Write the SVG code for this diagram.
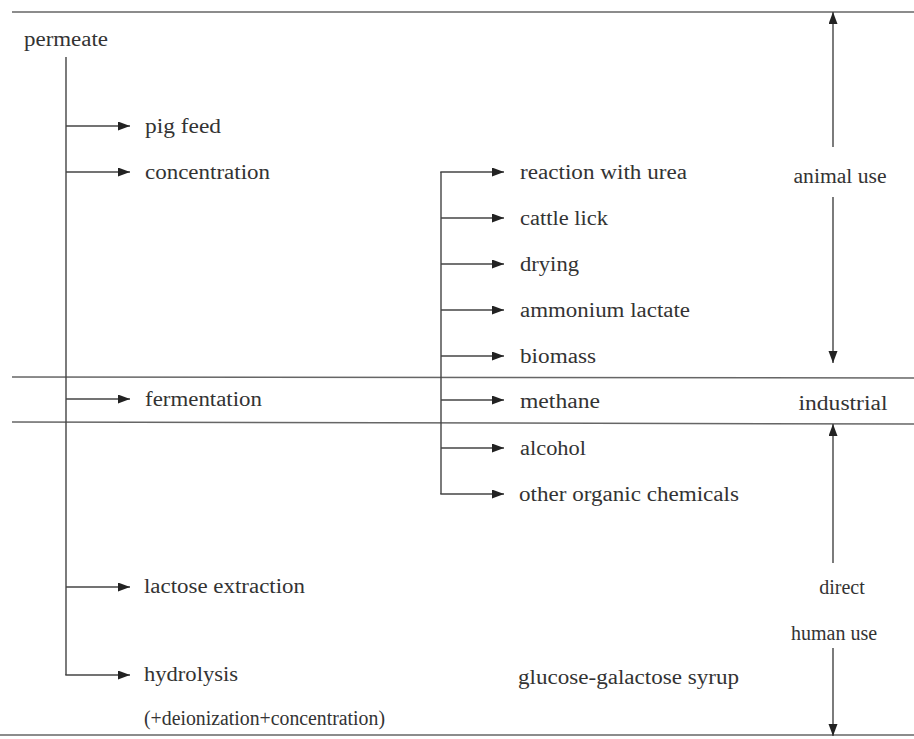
<svg xmlns="http://www.w3.org/2000/svg" width="914" height="739" viewBox="0 0 914 739">
<defs>
<marker id="ah" markerUnits="userSpaceOnUse" markerWidth="12" markerHeight="10" refX="12" refY="4.5" orient="auto">
<path d="M0,0 L12,4.5 L0,9 Z" fill="#222"/>
</marker>
<style>
.t{font-family:"Liberation Serif","Times New Roman",serif;font-size:20px;fill:#333}
.m{text-anchor:middle}
.ln{stroke:#444;stroke-width:1.4;fill:none}
.sep{stroke:#666;stroke-width:1.5;fill:none}
.ar{stroke:#444;stroke-width:1.4;fill:none;marker-end:url(#ah)}
</style>
</defs>
<rect width="914" height="739" fill="#fff"/>
<g id="separators">
<line class="sep" x1="12" y1="12" x2="914" y2="12"/>
<line class="sep" x1="12" y1="377" x2="914" y2="378"/>
<line class="sep" x1="12" y1="422" x2="914" y2="424"/>
<line class="sep" x1="0" y1="735" x2="914" y2="735"/>
</g>
<g id="connectors">
<line class="ln" x1="66" y1="57" x2="66" y2="675"/>
<line class="ar" x1="66" y1="126" x2="130" y2="126"/>
<line class="ar" x1="66" y1="172" x2="130" y2="172"/>
<line class="ar" x1="66" y1="399" x2="130" y2="399"/>
<line class="ar" x1="66" y1="587" x2="130" y2="587"/>
<line class="ar" x1="65.3" y1="675" x2="130" y2="675"/>
<line class="ln" x1="441" y1="172" x2="441" y2="494"/>
<line class="ar" x1="440.3" y1="172" x2="504" y2="172"/>
<line class="ar" x1="441" y1="218" x2="504" y2="218"/>
<line class="ar" x1="441" y1="264" x2="504" y2="264"/>
<line class="ar" x1="441" y1="310" x2="504" y2="310"/>
<line class="ar" x1="441" y1="356" x2="504" y2="356"/>
<line class="ar" x1="441" y1="400" x2="504" y2="400"/>
<line class="ar" x1="441" y1="448" x2="504" y2="448"/>
<line class="ar" x1="440.3" y1="494" x2="504" y2="494"/>
<line class="ar" x1="833" y1="147" x2="833" y2="12"/>
<line class="ar" x1="833" y1="197" x2="833" y2="363"/>
<line class="ar" x1="833" y1="563" x2="833" y2="424"/>
<line class="ar" x1="833" y1="648" x2="833" y2="736"/>
</g>
<g id="n-permeate"><text class="t" x="24" y="46" textLength="84" lengthAdjust="spacingAndGlyphs">permeate</text></g>
<g id="n-pigfeed"><text class="t" x="145" y="133" textLength="76" lengthAdjust="spacingAndGlyphs">pig feed</text></g>
<g id="n-concentration"><text class="t" x="145" y="179" textLength="125" lengthAdjust="spacingAndGlyphs">concentration</text></g>
<g id="n-fermentation"><text class="t" x="145" y="406" textLength="117" lengthAdjust="spacingAndGlyphs">fermentation</text></g>
<g id="n-lactose"><text class="t" x="144" y="593" textLength="161" lengthAdjust="spacingAndGlyphs">lactose extraction</text></g>
<g id="n-hydrolysis"><text class="t" x="144" y="681" textLength="94" lengthAdjust="spacingAndGlyphs">hydrolysis</text></g>
<g id="n-deion"><text class="t" x="144" y="725" textLength="241" lengthAdjust="spacingAndGlyphs">(+deionization+concentration)</text></g>
<g id="n-urea"><text class="t" x="520" y="179" textLength="167" lengthAdjust="spacingAndGlyphs">reaction with urea</text></g>
<g id="n-cattle"><text class="t" x="520" y="225" textLength="88" lengthAdjust="spacingAndGlyphs">cattle lick</text></g>
<g id="n-drying"><text class="t" x="520" y="271" textLength="59" lengthAdjust="spacingAndGlyphs">drying</text></g>
<g id="n-ammonium"><text class="t" x="520" y="317" textLength="170" lengthAdjust="spacingAndGlyphs">ammonium lactate</text></g>
<g id="n-biomass"><text class="t" x="520" y="363" textLength="76" lengthAdjust="spacingAndGlyphs">biomass</text></g>
<g id="n-methane"><text class="t" x="520" y="408" textLength="80" lengthAdjust="spacingAndGlyphs">methane</text></g>
<g id="n-alcohol"><text class="t" x="520" y="455" textLength="66" lengthAdjust="spacingAndGlyphs">alcohol</text></g>
<g id="n-other"><text class="t" x="519" y="501" textLength="220" lengthAdjust="spacingAndGlyphs">other organic chemicals</text></g>
<g id="n-glucose"><text class="t" x="518" y="684" textLength="221" lengthAdjust="spacingAndGlyphs">glucose-galactose syrup</text></g>
<g id="l-animal"><text class="t m" x="840" y="183" textLength="93" lengthAdjust="spacingAndGlyphs">animal use</text></g>
<g id="l-industrial"><text class="t m" x="843" y="410" textLength="89" lengthAdjust="spacingAndGlyphs">industrial</text></g>
<g id="l-direct"><text class="t m" x="842" y="594">direct</text></g>
<g id="l-human"><text class="t m" x="834" y="640">human use</text></g>
</svg>
